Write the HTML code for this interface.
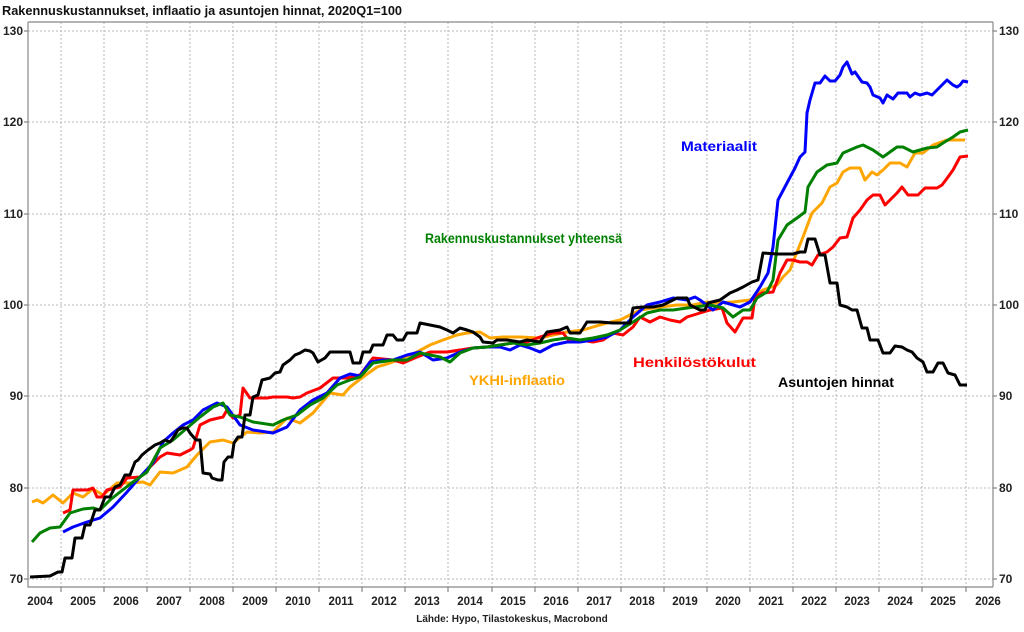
<!DOCTYPE html>
<html><head><meta charset="utf-8"><style>
body{margin:0;background:#fff;}
svg text{font-family:"Liberation Sans",sans-serif;}
</style></head><body>
<svg width="1024" height="627" viewBox="0 0 1024 627" xmlns="http://www.w3.org/2000/svg">
<rect width="1024" height="627" fill="#fff"/>
<text x="2" y="15" font-size="13" font-weight="bold" fill="#111" textLength="400" lengthAdjust="spacingAndGlyphs">Rakennuskustannukset, inflaatio ja asuntojen hinnat, 2020Q1=100</text>
<g stroke="#b8b8b8" stroke-width="1" stroke-dasharray="2,2">
<line x1="28" x2="993" y1="31" y2="31"/><line x1="28" x2="993" y1="122" y2="122"/><line x1="28" x2="993" y1="214" y2="214"/><line x1="28" x2="993" y1="305" y2="305"/><line x1="28" x2="993" y1="396" y2="396"/><line x1="28" x2="993" y1="488" y2="488"/><line x1="28" x2="993" y1="579" y2="579"/>
<line x1="61" x2="61" y1="22" y2="587"/><line x1="104" x2="104" y1="22" y2="587"/><line x1="147" x2="147" y1="22" y2="587"/><line x1="190" x2="190" y1="22" y2="587"/><line x1="233" x2="233" y1="22" y2="587"/><line x1="276" x2="276" y1="22" y2="587"/><line x1="319" x2="319" y1="22" y2="587"/><line x1="362" x2="362" y1="22" y2="587"/><line x1="405" x2="405" y1="22" y2="587"/><line x1="448" x2="448" y1="22" y2="587"/><line x1="492" x2="492" y1="22" y2="587"/><line x1="535" x2="535" y1="22" y2="587"/><line x1="578" x2="578" y1="22" y2="587"/><line x1="621" x2="621" y1="22" y2="587"/><line x1="664" x2="664" y1="22" y2="587"/><line x1="707" x2="707" y1="22" y2="587"/><line x1="750" x2="750" y1="22" y2="587"/><line x1="793" x2="793" y1="22" y2="587"/><line x1="836" x2="836" y1="22" y2="587"/><line x1="879" x2="879" y1="22" y2="587"/><line x1="922" x2="922" y1="22" y2="587"/><line x1="966" x2="966" y1="22" y2="587"/>
</g>
<g stroke="#888" stroke-width="1.2" fill="none">
<path d="M28,22 L993,22 M28,22 L28,587 L993,587 M993,22 L993,587"/>
<path d="M24,31H28M24,122H28M24,214H28M24,305H28M24,396H28M24,488H28M24,579H28M993,31H997M993,122H997M993,214H997M993,305H997M993,396H997M993,488H997M993,579H997"/>
<path d="M61,587v5M104,587v5M147,587v5M190,587v5M233,587v5M276,587v5M319,587v5M362,587v5M405,587v5M448,587v5M492,587v5M535,587v5M578,587v5M621,587v5M664,587v5M707,587v5M750,587v5M793,587v5M836,587v5M879,587v5M922,587v5M966,587v5"/>
</g>
<g font-size="12" font-weight="bold" fill="#222">
<g text-anchor="end"><text x="23" y="35">130</text><text x="23" y="126">120</text><text x="23" y="218">110</text><text x="23" y="309">100</text><text x="23" y="400">90</text><text x="23" y="492">80</text><text x="23" y="583">70</text></g>
<g><text x="999" y="35">130</text><text x="999" y="126">120</text><text x="999" y="218">110</text><text x="999" y="309">100</text><text x="999" y="400">90</text><text x="999" y="492">80</text><text x="999" y="583">70</text></g>
<g text-anchor="middle" font-size="11.5"><text x="40" y="605">2004</text><text x="83" y="605">2005</text><text x="126" y="605">2006</text><text x="169" y="605">2007</text><text x="212" y="605">2008</text><text x="255" y="605">2009</text><text x="298" y="605">2010</text><text x="341" y="605">2011</text><text x="384" y="605">2012</text><text x="427" y="605">2013</text><text x="470" y="605">2014</text><text x="513" y="605">2015</text><text x="556" y="605">2016</text><text x="599" y="605">2017</text><text x="642" y="605">2018</text><text x="685" y="605">2019</text><text x="728" y="605">2020</text><text x="771" y="605">2021</text><text x="814" y="605">2022</text><text x="857" y="605">2023</text><text x="900" y="605">2024</text><text x="943" y="605">2025</text><text x="988" y="605">2026</text></g>
</g>
<text x="512" y="622" font-size="10" font-weight="bold" fill="#222" text-anchor="middle">Lähde: Hypo, Tilastokeskus, Macrobond</text>
<g fill="none" stroke-width="3" stroke-linejoin="round">
<polyline stroke="#ffa500" points="32,502 37,500 43,503 53,495 63,503 73,493 83,497 93,489 103,495 117,483 130,483 143,482 150,485 160,472 173,473 187,467 197,455 210,442 223,440 233,443 247,432 260,433 273,432 287,418 300,423 313,413 330,393 343,395 350,387 363,377 377,367 390,363 403,358 417,352 430,345 443,340 457,335 467,333 480,332 490,338 503,337 520,337 540,338 553,335 567,332 583,330 593,327 607,323 620,320 640,310 660,307 677,305 693,305 707,302 717,303 733,302 750,300 763,290 777,285 783,277 790,270 795,257 803,237 812,213 822,203 830,187 837,183 843,172 850,168 860,168 865,180 872,172 877,175 883,170 890,163 900,163 907,167 915,153 923,153 933,145 947,140 957,140 965,140"/>
<polyline stroke="#ff0000" points="63,513 70,510 73,490 87,490 93,488 97,497 102,497 107,490 120,487 127,478 140,477 147,470 160,457 167,453 180,455 190,450 193,448 200,425 210,420 223,417 227,410 233,418 240,415 243,388 250,398 267,398 273,397 287,397 293,398 300,397 307,393 320,388 333,378 347,378 360,375 373,358 393,360 403,363 417,357 430,352 447,352 460,350 473,348 487,347 500,345 513,343 527,342 540,337 553,333 563,333 570,342 580,340 593,342 603,340 613,333 623,335 633,327 640,317 650,322 660,317 670,320 680,322 687,317 700,313 710,310 722,308 727,323 735,332 743,318 752,318 755,297 762,293 773,292 780,273 787,260 793,260 800,262 807,262 812,265 818,255 827,252 833,247 840,238 847,237 853,218 860,210 867,200 873,195 880,195 885,205 890,200 897,193 902,187 908,195 918,195 925,188 937,188 942,185 948,177 953,170 960,157 968,156"/>
<polyline stroke="#0000ff" points="63,532 73,527 87,522 100,518 113,507 127,492 140,477 153,463 163,442 173,433 183,425 193,420 203,410 217,403 227,407 240,425 253,430 273,433 287,427 300,410 313,400 327,393 340,378 350,374 360,376 370,362 383,360 393,360 407,355 420,352 433,360 447,358 460,352 473,348 487,347 500,347 510,350 520,345 530,348 540,352 553,345 567,342 580,342 593,340 607,337 620,330 633,317 647,305 660,302 673,298 687,300 695,297 700,300 713,310 723,302 740,307 750,302 760,287 768,273 773,247 778,200 787,183 795,168 800,157 805,152 807,113 810,100 815,83 820,83 825,76 830,81 835,81 840,75 843,67 847,62 852,74 855,72 862,82 867,83 870,87 873,95 880,98 883,103 887,95 893,99 898,93 907,93 910,97 915,93 920,95 927,93 932,95 937,90 947,80 953,85 957,87 960,85 963,81 968,82"/>
<polyline stroke="#008000" points="32,542 40,533 50,528 60,527 70,513 83,509 93,508 100,510 110,500 120,492 133,482 147,472 160,448 173,440 187,428 200,417 213,407 223,403 230,415 240,417 253,422 273,425 283,420 297,415 310,405 323,398 337,385 350,380 360,377 373,363 393,360 407,360 420,353 440,357 450,362 460,353 473,348 487,347 500,345 513,343 527,345 540,343 553,340 567,338 580,340 593,338 607,335 620,330 633,322 647,313 660,310 673,310 687,308 710,305 723,308 733,317 743,310 750,310 757,298 767,292 773,280 778,240 787,225 797,218 805,212 808,187 817,172 827,165 837,163 843,153 850,150 857,147 863,145 873,150 883,157 890,152 897,147 903,147 913,152 920,150 927,148 937,147 943,143 953,137 960,132 968,130"/>
<polyline stroke="#000" points="30,577 50,576 58,572 62,572 65,558 72,558 75,538 82,538 85,525 90,525 95,510 100,510 105,497 110,497 115,487 120,485 125,475 130,475 135,462 138,460 142,455 148,450 155,445 160,443 165,440 170,442 173,438 178,430 182,428 187,428 190,433 196,440 200,440 203,473 210,474 212,478 218,480 222,480 224,462 228,457 232,457 234,443 238,437 242,437 245,415 250,415 253,397 258,395 262,380 270,378 275,373 280,372 283,365 290,360 295,355 300,353 305,350 310,351 313,353 318,362 325,358 330,352 350,352 353,363 360,363 363,352 370,352 373,345 383,345 387,335 393,335 397,340 403,340 407,333 417,333 420,323 430,325 440,327 447,330 453,333 460,328 467,330 473,332 480,337 483,342 493,343 497,340 507,340 520,342 527,340 540,342 547,332 560,330 567,327 570,333 580,333 587,322 600,322 613,323 630,323 633,308 643,307 653,307 663,305 677,298 687,298 690,305 700,310 705,310 708,303 720,300 730,293 737,290 743,287 752,282 758,280 763,253 777,254 793,254 800,252 805,252 808,239 815,239 820,255 825,255 830,283 837,283 840,305 847,307 852,310 857,310 862,328 867,328 870,340 878,340 883,353 890,353 895,346 902,347 907,350 912,352 917,358 923,362 927,372 933,372 938,363 943,363 948,373 955,375 960,385 967,385"/>
</g>
<g font-size="13.5" font-weight="bold" lengthAdjust="spacingAndGlyphs">
<text x="681" y="151" fill="#0000ff" textLength="76" lengthAdjust="spacingAndGlyphs">Materiaalit</text>
<text x="425" y="243" fill="#008000" textLength="197" lengthAdjust="spacingAndGlyphs">Rakennuskustannukset yhteensä</text>
<text x="633" y="367" fill="#ff0000" textLength="123" lengthAdjust="spacingAndGlyphs">Henkilöstökulut</text>
<text x="469" y="385" fill="#ffa500" textLength="96" lengthAdjust="spacingAndGlyphs">YKHI-inflaatio</text>
<text x="778" y="387" fill="#000" textLength="116" lengthAdjust="spacingAndGlyphs">Asuntojen hinnat</text>
</g>
</svg>
</body></html>
